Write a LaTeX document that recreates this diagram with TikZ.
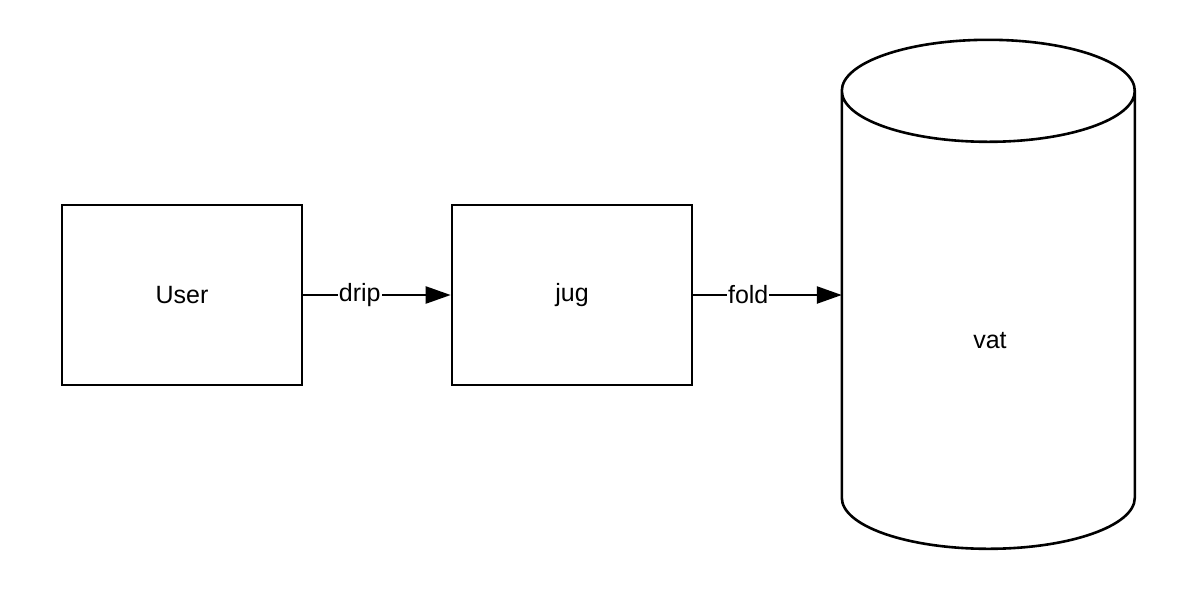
\documentclass[tikz,border=0pt]{standalone}
\usepackage{fontspec}
\setmainfont{Liberation Sans}
\usetikzlibrary{arrows.meta}
\begin{document}
\begin{tikzpicture}[x=1pt,y=-1pt,
  every node/.style={font=\fontsize{25}{29}\selectfont},
  box/.style={draw,line width=2.6pt,minimum width=240pt,minimum height=180pt,inner sep=0pt},
  flow/.style={line width=2.4pt,-{Triangle[length=25pt,width=17pt]}},
  lbl/.style={fill=white,inner sep=1pt}]
\useasboundingbox (0,0) rectangle (1202,590);
\node[box] (user) at (182,295) {User};
\node[box] (jug) at (572,295) {jug};
% storage cylinder: invisible frame node, outline drawn from its anchors
\node[minimum width=293pt,minimum height=510pt,inner sep=0pt] (vat) at (988.5,295) {};
\draw[line width=2.6pt,line join=round] (vat.north west) ++(0,51)
  arc[start angle=180,end angle=0,x radius=146.5,y radius=51]
  -- ++(0,407)
  arc[start angle=0,end angle=180,x radius=146.5,y radius=51]
  -- cycle;
\draw[line width=2.6pt] (vat.north west) ++(0,51)
  arc[start angle=180,end angle=360,x radius=146.5,y radius=51];
\node (vatlabel) at (990,341) {vat};
\draw[flow] (user.east) -- node[lbl,pos=0.383] {drip} (jug.west);
\draw[flow] (jug.east) -- node[lbl,pos=0.37] {fold} (vat.west);
\end{tikzpicture}
\end{document}
